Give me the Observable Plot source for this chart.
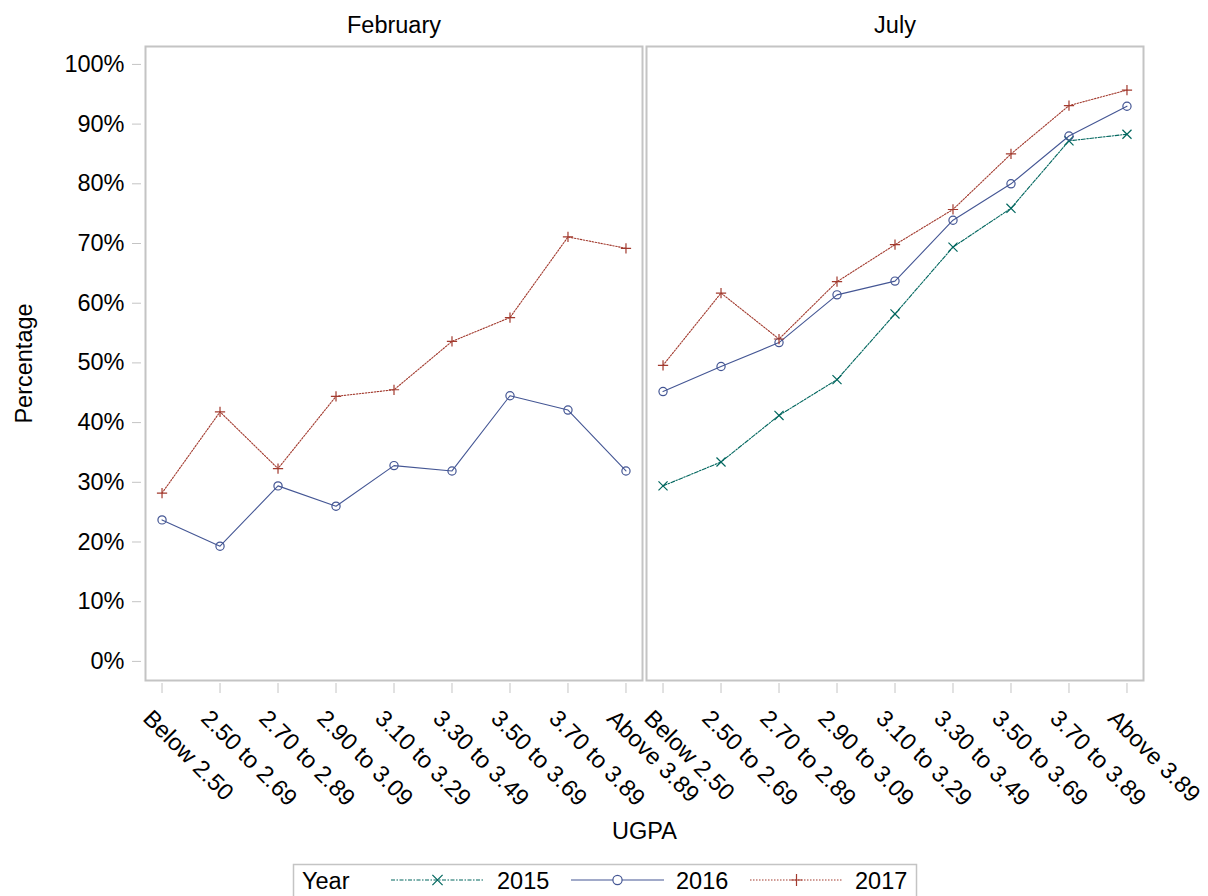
<!DOCTYPE html>
<html>
<head>
<meta charset="utf-8">
<script src="https://cdn.jsdelivr.net/npm/d3@7"></script>
<script src="https://cdn.jsdelivr.net/npm/@observablehq/plot@0.6"></script>
<style>
  html, body { margin: 0; padding: 0; background: #fff; }
  #wrap { position: relative; width: 1208px; height: 896px; overflow: hidden; font-family: "Liberation Sans", Arial, sans-serif; }
  #chart { position: absolute; left: 0; top: 0; }
  #legend { position: absolute; left: 0; top: 858px; }
</style>
</head>
<body>
<div id="wrap"><div id="chart"></div><div id="legend"></div></div>
<script>
// ---- data ----
const categories = ["Below 2.50", "2.50 to 2.69", "2.70 to 2.89", "2.90 to 3.09", "3.10 to 3.29", "3.30 to 3.49", "3.50 to 3.69", "3.70 to 3.89", "Above 3.89"];
const months = ["February", "July"];
const years = ["2015", "2016", "2017"];
const feb2016 = [23.7, 19.3, 29.4, 26.0, 32.8, 31.9, 44.5, 42.1, 31.9];
const feb2017 = [28.2, 41.8, 32.3, 44.4, 45.5, 53.6, 57.6, 71.1, 69.2];
const jul2015 = [29.4, 33.4, 41.2, 47.2, 58.2, 69.4, 75.9, 87.2, 88.3];
const jul2016 = [45.2, 49.4, 53.4, 61.4, 63.7, 73.9, 80.0, 88.0, 93.0];
const jul2017 = [49.6, 61.7, 54.0, 63.6, 69.8, 75.7, 85.0, 93.1, 95.7];
const yTicks = [0, 10, 20, 30, 40, 50, 60, 70, 80, 90, 100];

const series = [
  {month: "February", year: "2016", values: feb2016},
  {month: "February", year: "2017", values: feb2017},
  {month: "July", year: "2015", values: jul2015},
  {month: "July", year: "2016", values: jul2016},
  {month: "July", year: "2017", values: jul2017}
];
const rows = series.flatMap(s => s.values.map((v, i) => ({month: s.month, year: s.year, ugpa: categories[i], pct: v})));

const styleByYear = {
  "2015": {color: "#01665E", dash: "4,1.5,1.5,1.5", symbol: "times", r: 4.2},
  "2016": {color: "#445694", dash: null, symbol: "circle", r: 4.1},
  "2017": {color: "#A23A2E", dash: "1.5,1.5", symbol: "plus", r: 3.4}
};

const font = "'Liberation Sans', Arial, sans-serif";
const gray = "#c4c4c4";

const marks = [
  Plot.frame({stroke: gray, strokeWidth: 2}),
  Plot.axisFx({anchor: "top", tickSize: 0, tickPadding: 14, label: null}),
  Plot.axisY({ticks: yTicks, tickFormat: d => d + "%", tickSize: 9, dx: -4, tickPadding: 8, stroke: gray,
              label: "Percentage", labelAnchor: "center", labelArrow: "none", labelOffset: 130}),
  Plot.axisX({tickSize: 10, dy: 3, stroke: gray, tickFormat: () => "", label: null}),
  Plot.axisX({tickSize: 0, tickRotate: 45, dx: -15, dy: 22, stroke: "none",
              label: "UGPA", labelAnchor: "center", labelArrow: "none", labelOffset: 158})
];
for (const y of years) {
  const st = styleByYear[y];
  const d = rows.filter(r => r.year === y);
  marks.push(Plot.line(d, {x: "ugpa", y: "pct", fx: "month", z: "month", stroke: st.color, strokeWidth: 1.1, strokeDasharray: st.dash}));
  marks.push(Plot.dot(d, {x: "ugpa", y: "pct", fx: "month", symbol: st.symbol, r: st.r, stroke: st.color, fill: "none", strokeWidth: 1.2}));
}

const chart = Plot.plot({
  width: 1208,
  height: 858,
  marginLeft: 144,
  marginRight: 64,
  marginTop: 46,
  marginBottom: 178,
  style: {fontFamily: font, fontSize: "23.5px", color: "#000", background: "#fff"},
  fx: {domain: months, paddingInner: 0.007, paddingOuter: 0, label: null},
  x: {type: "point", domain: categories, padding: 0.285, round: false, label: null},
  y: {domain: [-3.2, 103], label: null},
  marks
});
document.getElementById("chart").appendChild(chart);

// ---- legend ----
const lg = d3.select("#legend").append("svg").attr("width", 1208).attr("height", 38)
  .style("font-family", font).style("font-size", "23.5px");
lg.append("rect").attr("x", 293.5).attr("y", 6.5).attr("width", 623).attr("height", 44)
  .attr("fill", "none").attr("stroke", "#c4c4c4").attr("stroke-width", 1.5);
lg.append("text").attr("x", 302).attr("y", 31).text("Year");
const entries = [
  {year: "2015", x0: 391, x1: 484, tx: 497},
  {year: "2016", x0: 571, x1: 664, tx: 676},
  {year: "2017", x0: 750, x1: 843, tx: 855}
];
const symMap = {times: d3.symbolTimes, circle: d3.symbolCircle, plus: d3.symbolPlus};
for (const e of entries) {
  const st = styleByYear[e.year];
  lg.append("line").attr("x1", e.x0).attr("x2", e.x1).attr("y1", 22).attr("y2", 22)
    .attr("stroke", st.color).attr("stroke-width", 1.1).attr("stroke-dasharray", st.dash);
  const cx = (e.x0 + e.x1) / 2;
  if (st.symbol === "circle") {
    lg.append("circle").attr("cx", cx).attr("cy", 22).attr("r", st.r + 0.5).attr("fill", "#fff").attr("stroke", st.color).attr("stroke-width", 1.2);
  } else {
    lg.append("path").attr("transform", `translate(${cx},22)`)
      .attr("d", d3.symbol(symMap[st.symbol], Math.PI * (st.r + 0.5) * (st.r + 0.5))())
      .attr("fill", "none").attr("stroke", st.color).attr("stroke-width", 1.2);
  }
  lg.append("text").attr("x", e.tx).attr("y", 31).text(e.year);
}
</script>
</body>
</html>
